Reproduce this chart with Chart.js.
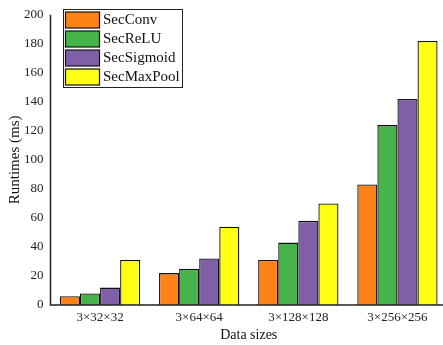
<!DOCTYPE html>
<html>
<head>
<meta charset="utf-8">
<script src="https://cdn.jsdelivr.net/npm/chart.js@4.4.1/dist/chart.umd.min.js"></script>
<style>
  html, body { margin: 0; padding: 0; background: #fff; overflow: hidden; }
  #wrap { width: 447px; height: 345px; }
</style>
</head>
<body>
<div id="wrap"><canvas id="myChart" width="447" height="345"></canvas></div>
<script>
const categories = ['3×32×32', '3×64×64', '3×128×128', '3×256×256'];
const seriesNames = ['SecConv', 'SecReLU', 'SecSigmoid', 'SecMaxPool'];
const secConv = [6, 22, 31, 83];
const secReLU = [8, 25, 43, 124];
const secSigmoid = [12, 32, 58, 142];
const secMaxPool = [31, 54, 70, 182];
const yTicks = [0, 20, 40, 60, 80, 100, 120, 140, 160, 180, 200];

const colors = ['#ff8216', '#47b34b', '#7f5fa8', '#ffff14'];
const FONT = '"Liberation Serif", "Times New Roman", serif';

// axis lines (left and bottom only)
const axisLines = {
    id: 'axisLines',
    afterDatasetsDraw(chart) {
        const a = chart.chartArea;
        const ctx = chart.ctx;
        ctx.save();
        ctx.strokeStyle = '#222';
        ctx.lineWidth = 1.5;
        ctx.beginPath();
        ctx.moveTo(a.left, a.top);
        ctx.lineTo(a.left, a.bottom);
        ctx.lineTo(a.right, a.bottom);
        ctx.stroke();
        ctx.restore();
    }
};

// legend drawn inside the plot, top-left
const boxLegend = {
    id: 'boxLegend',
    afterDraw(chart) {
        const ctx = chart.ctx;
        const x0 = 63.5, y0 = 9.5, w = 119, h = 78;
        ctx.save();
        ctx.fillStyle = '#fff';
        ctx.fillRect(x0, y0, w, h);
        ctx.strokeStyle = '#222';
        ctx.lineWidth = 1;
        ctx.strokeRect(x0, y0, w, h);
        ctx.font = '15px ' + FONT;
        ctx.textBaseline = 'middle';
        chart.data.datasets.forEach(function(ds, i) {
            const ry = 12 + i * 19;
            ctx.fillStyle = ds.backgroundColor;
            ctx.fillRect(65.5, ry, 34, 16);
            ctx.strokeStyle = '#111';
            ctx.lineWidth = 1.2;
            ctx.strokeRect(65.5, ry, 34, 16);
            ctx.fillStyle = '#111';
            ctx.fillText(ds.label, 103, ry + 8.5);
        });
        ctx.restore();
    }
};

var ctx = document.getElementById('myChart').getContext('2d');
var chart = new Chart(ctx, {
    type: 'bar',
    data: {
        labels: categories,
        datasets: [secConv, secReLU, secSigmoid, secMaxPool].map(function(vals, i) {
            return {
                label: seriesNames[i],
                data: vals,
                backgroundColor: colors[i],
                borderColor: '#111',
                borderWidth: 1.3,
                borderSkipped: 'bottom',
                categoryPercentage: 0.81,
                barPercentage: 1.0
            };
        })
    },
    options: {
        responsive: false,
        animation: false,
        layout: { padding: { top: 4, right: 0, left: 6, bottom: 0 } },
        plugins: {
            legend: { display: false },
            tooltip: { enabled: false }
        },
        scales: {
            x: {
                grid: { display: false, drawTicks: false },
                border: { display: false },
                ticks: { color: '#222', font: { family: FONT, size: 13 }, padding: 5 },
                title: { display: true, text: 'Data sizes', color: '#111', font: { family: FONT, size: 14 }, padding: { top: 4, bottom: 1 } },
                afterFit: function(scale) { scale.height = 40; }
            },
            y: {
                min: 0,
                max: 200,
                afterBuildTicks: function(scale) {
                    scale.ticks = yTicks.map(function(v) { return { value: v }; });
                },
                grid: { display: false, drawTicks: false },
                border: { display: false },
                ticks: { color: '#222', font: { family: FONT, size: 13 }, padding: 7 },
                title: { display: true, text: 'Runtimes (ms)', color: '#111', font: { family: FONT, size: 15 }, padding: { top: 0, bottom: 4 } },
                afterFit: function(scale) { scale.width = 44.5; }
            }
        }
    },
    plugins: [axisLines, boxLegend]
});
</script>
</body>
</html>
